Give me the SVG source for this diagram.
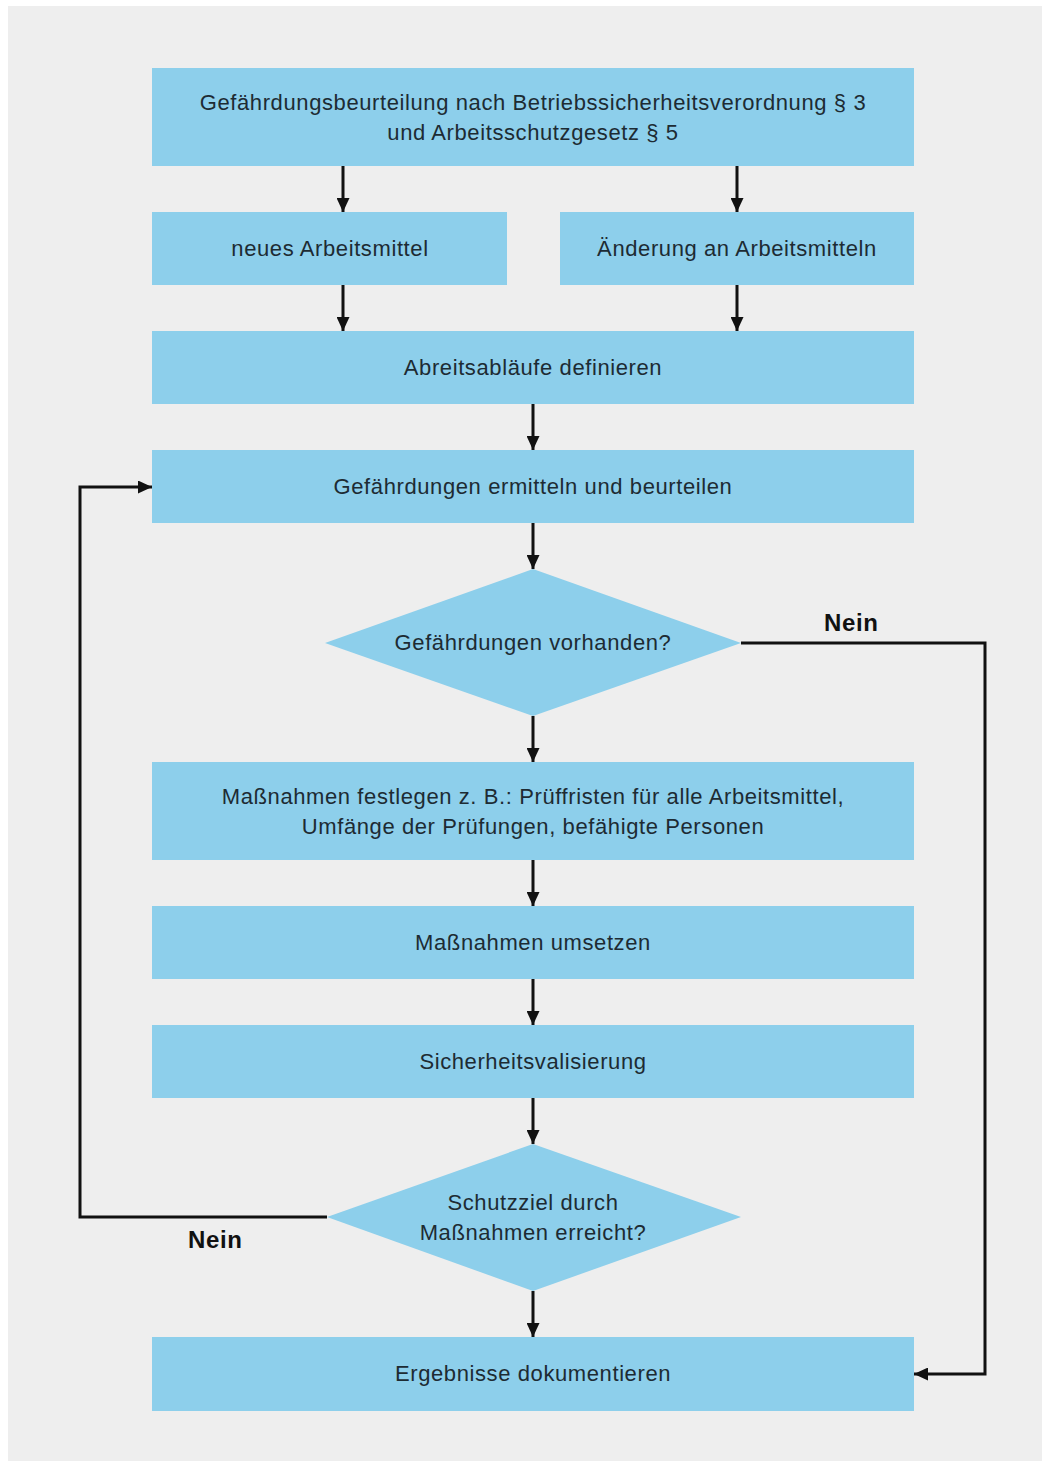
<svg xmlns="http://www.w3.org/2000/svg" width="1046" height="1465" viewBox="0 0 1046 1465">
<defs>
<style>
.box{fill:#8dcfeb}
.t{font-family:"Liberation Sans",Arial,sans-serif;font-size:22px;letter-spacing:0.6px;fill:#1d2b33;text-anchor:middle}
.lbl{font-family:"Liberation Sans",Arial,sans-serif;font-size:24px;letter-spacing:0.6px;font-weight:bold;fill:#111}
.c{fill:none;stroke:#111;stroke-width:3}
</style>
<marker id="ah" markerWidth="14" markerHeight="13" viewBox="0 0 14 13" refX="14" refY="6.5" orient="auto" markerUnits="userSpaceOnUse">
<path d="M0,0 L14,6.5 L0,13 Z" fill="#111"/>
</marker>
</defs>
<rect x="0" y="0" width="1046" height="1465" fill="#ffffff"/>
<rect x="8" y="6" width="1034" height="1455" fill="#eeeeee"/>

<g id="n1"><rect class="box" x="152" y="68" width="762" height="98"/>
<text class="t" x="533" y="110">Gefährdungsbeurteilung nach Betriebssicherheitsverordnung § 3</text>
<text class="t" x="533" y="140">und Arbeitsschutzgesetz § 5</text></g>
<g id="n2"><rect class="box" x="152" y="212" width="355" height="73"/>
<text class="t" x="330" y="256">neues Arbeitsmittel</text></g>
<g id="n3"><rect class="box" x="560" y="212" width="354" height="73"/>
<text class="t" x="737" y="256">Änderung an Arbeitsmitteln</text></g>
<g id="n4"><rect class="box" x="152" y="331" width="762" height="73"/>
<text class="t" x="533" y="375">Abreitsabläufe definieren</text></g>
<g id="n5"><rect class="box" x="152" y="450" width="762" height="73"/>
<text class="t" x="533" y="494">Gefährdungen ermitteln und beurteilen</text></g>
<g id="n6"><polygon class="box" points="533,569 741,643 533,716 325,643"/>
<text class="t" x="533" y="650">Gefährdungen vorhanden?</text></g>
<g id="n7"><rect class="box" x="152" y="762" width="762" height="98"/>
<text class="t" x="533" y="804">Maßnahmen festlegen z. B.: Prüffristen für alle Arbeitsmittel,</text>
<text class="t" x="533" y="834">Umfänge der Prüfungen, befähigte Personen</text></g>
<g id="n8"><rect class="box" x="152" y="906" width="762" height="73"/>
<text class="t" x="533" y="950">Maßnahmen umsetzen</text></g>
<g id="n9"><rect class="box" x="152" y="1025" width="762" height="73"/>
<text class="t" x="533" y="1069">Sicherheitsvalisierung</text></g>
<g id="n10"><polygon class="box" points="533,1144 741,1217 533,1291 327,1217"/>
<text class="t" x="533" y="1210">Schutzziel durch</text>
<text class="t" x="533" y="1240">Maßnahmen erreicht?</text></g>
<g id="n11"><rect class="box" x="152" y="1337" width="762" height="74"/>
<text class="t" x="533" y="1381">Ergebnisse dokumentieren</text></g>

<g id="connectors">
<line class="c" x1="343" y1="166" x2="343" y2="212" marker-end="url(#ah)"/>
<line class="c" x1="737" y1="166" x2="737" y2="212" marker-end="url(#ah)"/>
<line class="c" x1="343" y1="285" x2="343" y2="331" marker-end="url(#ah)"/>
<line class="c" x1="737" y1="285" x2="737" y2="331" marker-end="url(#ah)"/>
<line class="c" x1="533" y1="404" x2="533" y2="450" marker-end="url(#ah)"/>
<line class="c" x1="533" y1="523" x2="533" y2="569" marker-end="url(#ah)"/>
<line class="c" x1="533" y1="716" x2="533" y2="762" marker-end="url(#ah)"/>
<line class="c" x1="533" y1="860" x2="533" y2="906" marker-end="url(#ah)"/>
<line class="c" x1="533" y1="979" x2="533" y2="1025" marker-end="url(#ah)"/>
<line class="c" x1="533" y1="1098" x2="533" y2="1144" marker-end="url(#ah)"/>
<line class="c" x1="533" y1="1291" x2="533" y2="1337" marker-end="url(#ah)"/>
<polyline class="c" points="741,643 985,643 985,1374 914,1374" marker-end="url(#ah)"/>
<polyline class="c" points="327,1217 80,1217 80,487 152,487" marker-end="url(#ah)"/>
<text class="lbl" x="824" y="631">Nein</text>
<text class="lbl" x="188" y="1248">Nein</text>
</g>
</svg>
